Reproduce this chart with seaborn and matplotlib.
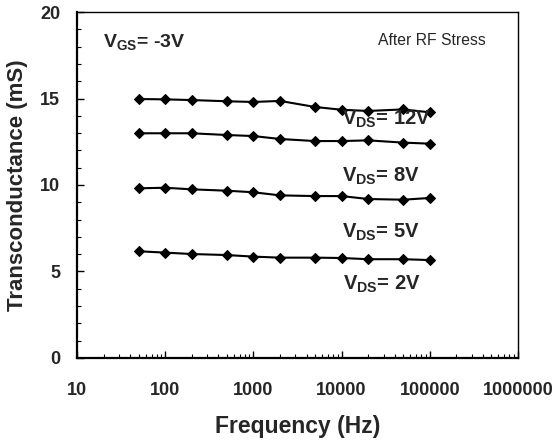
import numpy as np
import pandas as pd
import matplotlib
matplotlib.use("Agg")
import matplotlib.pyplot as plt
import seaborn as sns
from matplotlib.ticker import LogLocator, FixedLocator, MultipleLocator, NullFormatter

freq = [50, 100, 200, 500, 1000, 2000, 5000, 10000, 20000, 50000, 100000]
gm_12v = [14.97, 14.95, 14.91, 14.84, 14.80, 14.86, 14.51, 14.35, 14.28, 14.37, 14.20]
gm_8v = [12.99, 12.99, 12.99, 12.89, 12.83, 12.66, 12.54, 12.54, 12.58, 12.45, 12.39]
gm_5v = [9.81, 9.84, 9.75, 9.67, 9.58, 9.40, 9.36, 9.36, 9.19, 9.15, 9.25]
gm_2v = [6.17, 6.09, 6.01, 5.95, 5.86, 5.80, 5.80, 5.78, 5.71, 5.71, 5.66]
series_names = ["s1", "s2", "s3", "s4"]
x_tick_labels = ["10", "100", "1000", "10000", "100000", "1000000"]

sns.set_theme(style="white")
plt.rcParams['font.family'] = ['Liberation Sans', 'DejaVu Sans']
plt.rcParams['mathtext.fontset'] = 'custom'
plt.rcParams['mathtext.rm'] = 'Liberation Sans:bold'
plt.rcParams['mathtext.it'] = 'Liberation Sans:bold'
plt.rcParams['mathtext.bf'] = 'Liberation Sans:bold'

df = pd.concat([
    pd.DataFrame({"freq": freq, "gm": vals, "series": name})
    for name, vals in zip(series_names, [gm_12v, gm_8v, gm_5v, gm_2v])
])

fig = plt.figure(figsize=(5.56, 4.40), dpi=100)
ax = fig.add_axes([0.1385, 0.1864, 0.7932, 0.7863])

sns.lineplot(data=df, x="freq", y="gm", hue="series", units="series", estimator=None,
             palette=["black"] * 4, marker="D", markersize=4.8, markeredgecolor="black",
             linewidth=1.5, legend=False, ax=ax)

ax.set_xscale("log")
ax.set_xlim(10, 1e6)
ax.set_ylim(0, 20)
ax.xaxis.set_major_locator(FixedLocator([10, 100, 1000, 10000, 100000, 1000000]))
ax.set_xticklabels(x_tick_labels)
ax.xaxis.set_minor_locator(LogLocator(base=10, subs=np.arange(2, 10)))
ax.xaxis.set_minor_formatter(NullFormatter())
ax.yaxis.set_major_locator(MultipleLocator(5))
ax.yaxis.set_minor_locator(MultipleLocator(1))

ax.tick_params(axis="both", which="major", direction="in", length=5, width=1, color="black",
               labelsize=13)
ax.tick_params(axis="x", which="major", pad=17)
ax.tick_params(axis="y", which="major", pad=12)
ax.tick_params(axis="both", which="minor", direction="in", length=3, width=0.8, color="black")
ax.tick_params(axis="x", which="both", bottom=True)
ax.tick_params(axis="y", which="both", left=True)
for lab in ax.get_xticklabels() + ax.get_yticklabels():
    lab.set_fontweight("bold")

for side in ["left", "bottom"]:
    ax.spines[side].set_linewidth(1.6)
for side in ["top", "right"]:
    ax.spines[side].set_linewidth(1.0)
for s in ax.spines.values():
    s.set_color("black")

ax.set_xlabel("Frequency (Hz)", fontsize=16.5, fontweight="bold", labelpad=12)
ax.set_ylabel("Transconductance (mS)", fontsize=16, fontweight="bold")
ax.yaxis.set_label_coords(-0.112, 0.5)

ax.text(19.5, 17.98, r"$\mathrm{V_{GS}}$= -3V", fontsize=14, fontweight="bold", va="baseline", ha="left")
ax.text(435000, 18.1, "After RF Stress", fontsize=11.3, va="baseline", ha="right")
ax.text(10000, 13.47, r"$\mathrm{V_{DS}}$= 12V", fontsize=14.5, fontweight="bold", va="baseline", ha="left")
ax.text(10000, 10.17, r"$\mathrm{V_{DS}}$= 8V", fontsize=14.5, fontweight="bold", va="baseline", ha="left")
ax.text(10000, 6.94, r"$\mathrm{V_{DS}}$= 5V", fontsize=14.5, fontweight="bold", va="baseline", ha="left")
ax.text(10500, 3.93, r"$\mathrm{V_{DS}}$= 2V", fontsize=14.5, fontweight="bold", va="baseline", ha="left")

fig.savefig("out.png", dpi=100)
